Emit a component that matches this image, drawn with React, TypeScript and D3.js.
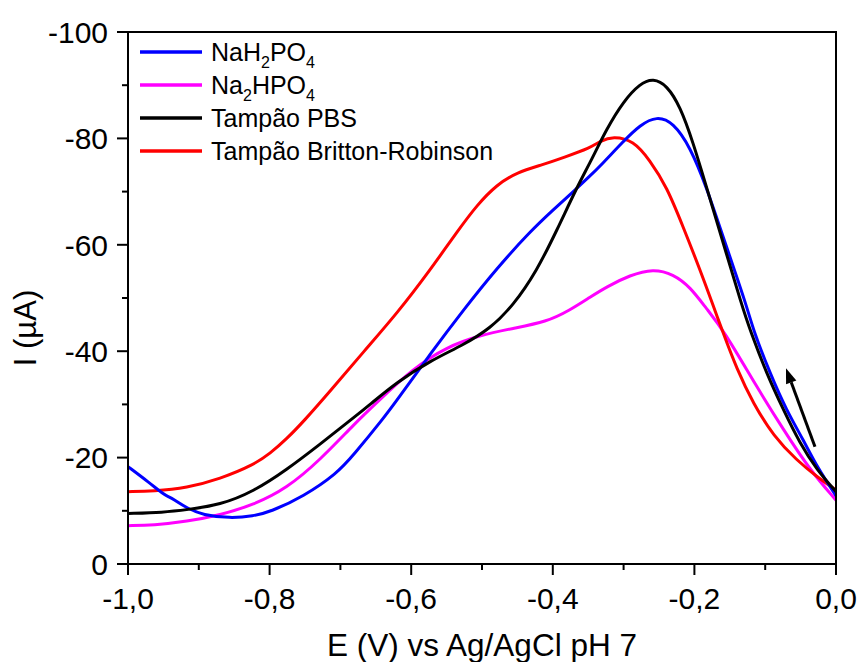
import React from "react";
import * as d3 from "d3";

// ---- data (E in V, I in µA) ----
const pbsE = [-1.0, -0.95, -0.917, -0.87, -0.823, -0.776, -0.729, -0.686, -0.658, -0.62, -0.573, -0.526, -0.488, -0.456, -0.423, -0.394, -0.366, -0.347, -0.324, -0.3, -0.277, -0.258, -0.239, -0.22, -0.202, -0.183, -0.159, -0.133, -0.121, -0.098, -0.074, -0.051, -0.027, 0.0];
const pbsI = [-9.5, -9.7, -10.2, -11.1, -13.6, -17.7, -22.5, -27.0, -30.0, -34.2, -38.2, -41.2, -44.3, -48.6, -55.0, -62.8, -70.8, -75.5, -81.8, -87.0, -90.3, -91.3, -90.0, -86.0, -79.3, -70.9, -60.2, -48.6, -43.8, -35.8, -28.9, -22.7, -17.7, -13.6];

const nah2E = [-1.0, -0.97, -0.95, -0.942, -0.936, -0.917, -0.894, -0.856, -0.823, -0.799, -0.752, -0.705, -0.682, -0.639, -0.62, -0.573, -0.526, -0.479, -0.432, -0.4, -0.371, -0.347, -0.333, -0.3, -0.277, -0.253, -0.23, -0.206, -0.183, -0.159, -0.126, -0.117, -0.093, -0.07, -0.046, -0.027, 0.0];
const nah2I = [-18.3, -15.3, -13.1, -12.6, -12.2, -10.5, -9.2, -8.6, -9.0, -9.8, -12.7, -17.0, -20.4, -27.4, -30.8, -39.5, -47.8, -55.6, -62.5, -66.5, -70.0, -73.0, -74.8, -79.5, -82.5, -84.2, -83.0, -78.4, -70.9, -61.3, -48.5, -44.0, -35.8, -28.9, -23.3, -18.3, -12.8];

const na2hE = [-1.0, -0.964, -0.917, -0.87, -0.823, -0.776, -0.729, -0.679, -0.649, -0.597, -0.55, -0.503, -0.456, -0.409, -0.376, -0.347, -0.324, -0.291, -0.258, -0.23, -0.206, -0.183, -0.159, -0.112, -0.074, -0.037, 0.0];
const na2hI = [-7.2, -7.3, -8.0, -9.2, -11.1, -14.2, -19.5, -26.5, -30.3, -36.8, -40.8, -43.0, -44.3, -45.5, -47.7, -50.2, -52.1, -54.3, -55.5, -54.5, -52.1, -48.0, -44.0, -33.3, -25.2, -17.7, -12.0];

const brE = [-1.0, -0.964, -0.917, -0.87, -0.823, -0.799, -0.776, -0.752, -0.715, -0.668, -0.62, -0.573, -0.536, -0.507, -0.479, -0.451, -0.413, -0.385, -0.347, -0.333, -0.315, -0.286, -0.263, -0.239, -0.216, -0.192, -0.173, -0.161, -0.14, -0.117, -0.088, -0.0555, -0.027, 0.0];
const brI = [-13.6, -13.7, -14.3, -16.0, -18.6, -20.8, -23.5, -26.8, -32.4, -39.8, -47.1, -55.3, -62.3, -67.5, -71.3, -73.6, -75.1, -76.4, -78.2, -79.5, -80.4, -79.6, -75.9, -70.9, -63.4, -55.3, -48.4, -44.0, -36.6, -30.2, -24.0, -19.5, -16.4, -13.9];

const xTicks = [-1.0, -0.8, -0.6, -0.4, -0.2, 0.0];
const xTickLabels = ["-1,0", "-0,8", "-0,6", "-0,4", "-0,2", "0,0"];
const xMinor = [-0.9, -0.7, -0.5, -0.3, -0.1];
const yTicks = [0, -20, -40, -60, -80, -100];
const yTickLabels = ["0", "-20", "-40", "-60", "-80", "-100"];
const yMinor = [-10, -30, -50, -70, -90];

// arrow annotation (data units): tail -> head
const arrowTail = [-0.0297, -22.05];
const arrowHead = [-0.0706, -36.8];

const series = [
  { name: "NaH2PO4", E: nah2E, I: nah2I, color: "#0000FF", label: [["NaH", 0], ["2", 1], ["PO", 0], ["4", 1]] },
  { name: "Na2HPO4", E: na2hE, I: na2hI, color: "#FF00FF", label: [["Na", 0], ["2", 1], ["HPO", 0], ["4", 1]] },
  { name: "PBS", E: pbsE, I: pbsI, color: "#000000", label: [["Tampão PBS", 0]] },
  { name: "BR", E: brE, I: brI, color: "#FF0000", label: [["Tampão Britton-Robinson", 0]] },
];

const W = 859, H = 662;
const M = { left: 128, right: 836, top: 32, bottom: 564 };
const FONT = "'Liberation Sans', Arial, Helvetica, sans-serif";

export default function App() {
  const x = d3.scaleLinear().domain([-1, 0]).range([M.left, M.right]);
  const y = d3.scaleLinear().domain([0, -100]).range([M.bottom, M.top]);
  const line = d3
    .line<[number, number]>()
    .x((d) => x(d[0]))
    .y((d) => y(d[1]))
    .curve(d3.curveBasis);

  const drawOrder = [1, 3, 0, 2];

  const ax = x(arrowTail[0]), ay = y(arrowTail[1]);
  const hx = x(arrowHead[0]), hy = y(arrowHead[1]);
  const ang = Math.atan2(hy - ay, hx - ax);
  const headLen = 15, headW = 5.5;
  const bx = hx - headLen * Math.cos(ang), by = hy - headLen * Math.sin(ang);
  const p1 = [bx + headW * Math.sin(ang), by - headW * Math.cos(ang)];
  const p2 = [bx - headW * Math.sin(ang), by + headW * Math.cos(ang)];

  return (
    <svg width={W} height={H} style={{ position: "absolute", left: 0, top: 0, background: "#fff" }} fontFamily={FONT}>
      <rect x={0} y={0} width={W} height={H} fill="#fff" />
      <defs>
        <clipPath id="plotclip">
          <rect x={M.left} y={M.top} width={M.right - M.left} height={M.bottom - M.top} />
        </clipPath>
      </defs>
      {/* curves */}
      <g clipPath="url(#plotclip)">
        {drawOrder.map((i) => {
          const s = series[i];
          const pts = s.E.map((e, k) => [e, s.I[k]] as [number, number]);
          return <path key={s.name} d={line(pts) || ""} fill="none" stroke={s.color} strokeWidth={3} strokeLinejoin="round" />;
        })}
      </g>
      {/* arrow */}
      <line x1={ax} y1={ay} x2={bx} y2={by} stroke="#000" strokeWidth={3} />
      <polygon points={`${hx},${hy} ${p1[0]},${p1[1]} ${p2[0]},${p2[1]}`} fill="#000" />
      {/* frame */}
      <rect x={M.left} y={M.top} width={M.right - M.left} height={M.bottom - M.top} fill="none" stroke="#000" strokeWidth={2} />
      {/* y ticks */}
      {yTicks.map((t, i) => (
        <g key={"yt" + t}>
          <line x1={M.left - 11} x2={M.left} y1={y(t)} y2={y(t)} stroke="#000" strokeWidth={2} />
          <text x={M.left - 20} y={y(t)} dy="0.36em" textAnchor="end" fontSize={30}>{yTickLabels[i]}</text>
        </g>
      ))}
      {yMinor.map((t) => (
        <line key={"ym" + t} x1={M.left - 6} x2={M.left} y1={y(t)} y2={y(t)} stroke="#000" strokeWidth={2} />
      ))}
      {/* x ticks */}
      {xTicks.map((t, i) => (
        <g key={"xt" + t}>
          <line x1={x(t)} x2={x(t)} y1={M.bottom} y2={M.bottom + 11} stroke="#000" strokeWidth={2} />
          <text x={x(t)} y={M.bottom + 45} textAnchor="middle" fontSize={30}>{xTickLabels[i]}</text>
        </g>
      ))}
      {xMinor.map((t) => (
        <line key={"xm" + t} x1={x(t)} x2={x(t)} y1={M.bottom} y2={M.bottom + 6} stroke="#000" strokeWidth={2} />
      ))}
      {/* axis titles */}
      <text x={(M.left + M.right) / 2} y={656} textAnchor="middle" fontSize={31.5}>E (V) vs Ag/AgCl pH 7</text>
      <text transform={`translate(36,328) rotate(-90)`} textAnchor="middle" fontSize={31}>I (µA)</text>
      {/* legend */}
      {series.map((s, i) => {
        const ly = 52 + i * 33;
        return (
          <g key={"lg" + s.name}>
            <line x1={140} x2={202} y1={ly} y2={ly} stroke={s.color} strokeWidth={3.5} />
            <text x={211} y={ly + 9} fontSize={25}>
              {s.label.map(([t, sub], k) => (
                <tspan key={k} fontSize={sub ? 16 : 25} dy={sub ? 7 : k > 0 ? -7 : 0}>{t as string}</tspan>
              ))}
            </text>
          </g>
        );
      })}
    </svg>
  );
}
